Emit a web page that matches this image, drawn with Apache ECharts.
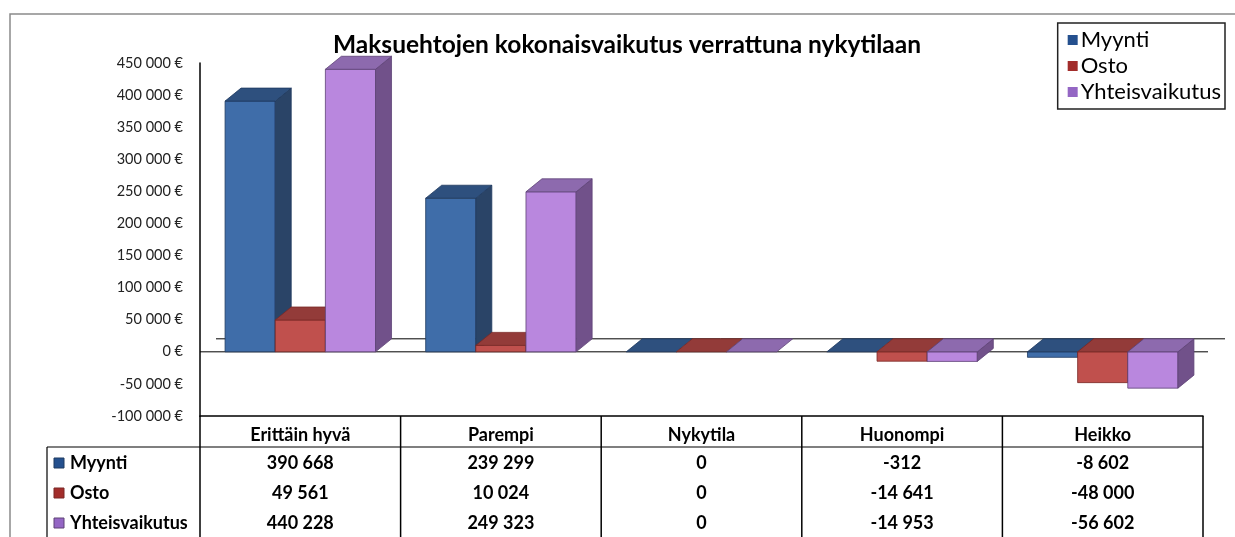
<!DOCTYPE html>
<html lang="fi">
<head>
<meta charset="UTF-8">
<title>Maksuehtojen kokonaisvaikutus</title>
<script src="https://cdn.jsdelivr.net/npm/echarts@6/dist/echarts.min.js"></script>
<style>
  html, body { margin: 0; padding: 0; background: #fff; }
  #main { width: 1235px; height: 537px; }
</style>
</head>
<body>
<div id="main"></div>
<script>
// data
var categories = ['Erittäin hyvä', 'Parempi', 'Nykytila', 'Huonompi', 'Heikko'];
var seriesNames = ['Myynti', 'Osto', 'Yhteisvaikutus'];
var myynti = [390668, 239299, 0, -312, -8602];
var osto = [49561, 10024, 0, -14641, -48000];
var yhteis = [440228, 249323, 0, -14953, -56602];
var yMin = -100000, yMax = 450000, yStep = 50000;

var allValues = [myynti, osto, yhteis];
// front / side / top face colours, legend colour
var faces = [
  { front: '#3F6DA9', side: '#2A4467', top: '#2E507E', edge: '#1F3A60', icon: '#24508E' },
  { front: '#C0504D', side: '#8A3331', top: '#933B39', edge: '#7A2826', icon: '#A22D2B' },
  { front: '#B987DE', side: '#71518A', top: '#8D6AAE', edge: '#5E4276', icon: '#9466C4' }
];
var DX = 16, DY = 13; // 3d depth

function fmt(v) {
  return String(v).replace(/\B(?=(\d{3})+(?!\d))/g, ' ');
}

function bar3d(k) {
  var c = faces[k];
  return {
    type: 'custom',
    name: seriesNames[k],
    itemStyle: { color: c.icon },
    data: allValues[k].map(function (v, i) { return [i, v]; }),
    renderItem: function (params, api) {
      var i = api.value(0), v = api.value(1);
      var base = api.coord([i, 0]);
      var band = api.size([1, 0])[0];
      var w = band * 0.25;
      var x0 = base[0] - 1.5 * w + k * w, x1 = x0 + w;
      var yv = api.coord([i, v])[1];
      var yTop = Math.min(base[1], yv), yBot = Math.max(base[1], yv);
      var kids = [];
      if (yBot - yTop > 0.5) {
        kids.push({ type: 'rect', shape: { x: x0, y: yTop, width: w, height: yBot - yTop },
          style: { fill: c.front, stroke: c.edge, lineWidth: 0.8 } });
        kids.push({ type: 'polygon', shape: { points: [[x1, yTop], [x1 + DX, yTop - DY], [x1 + DX, yBot - DY], [x1, yBot]] },
          style: { fill: c.side, stroke: c.edge, lineWidth: 0.8 } });
      }
      kids.push({ type: 'polygon', shape: { points: [[x0, yTop], [x0 + DX, yTop - DY], [x1 + DX, yTop - DY], [x1, yTop]] },
        style: { fill: c.top, stroke: c.edge, lineWidth: 0.8 } });
      return { type: 'group', children: kids };
    }
  };
}

var floorSeries = {
  type: 'custom',
  name: 'floor',
  silent: true,
  data: [[0, 0]],
  renderItem: function (params, api) {
    var band = api.size([1, 0])[0];
    var a = api.coord([0, 0]), b = api.coord([categories.length - 1, 0]);
    var l = a[0] - band / 2, r = b[0] + band / 2, y = a[1];
    return { type: 'group', children: [
      { type: 'line', shape: { x1: l + DX, y1: y - DY, x2: r + DX + 6, y2: y - DY }, style: { stroke: '#000', lineWidth: 1 } },
      { type: 'line', shape: { x1: l, y1: y, x2: r + 5, y2: y }, style: { stroke: '#000', lineWidth: 1 } }
    ] };
  }
};

var tableSeries = {
  type: 'custom',
  name: 'table',
  silent: true,
  data: categories.map(function (c, i) { return [i, yMin]; }),
  renderItem: function (params, api) {
    var i = api.value(0);
    var p = api.coord([i, yMin]);
    var band = api.size([1, 0])[0];
    var cx = p[0], yb = p[1];
    var l = cx - band / 2, r = cx + band / 2;
    var txt = { fill: '#000', font: 'bold 18px Lato', align: 'center', verticalAlign: 'middle' };
    var kids = [
      { type: 'line', shape: { x1: r, y1: yb, x2: r, y2: yb + 140 }, style: { stroke: '#000', lineWidth: 1.5 } },
      { type: 'line', shape: { x1: l, y1: yb + 31, x2: r, y2: yb + 31 }, style: { stroke: '#000', lineWidth: 1.2 } },
      { type: 'text', style: Object.assign({ text: categories[i], x: cx, y: yb + 19 }, txt) }
    ];
    for (var k = 0; k < 3; k++) {
      kids.push({ type: 'text', style: Object.assign({ text: fmt(allValues[k][i]), x: cx, y: yb + 47 + k * 30 }, txt) });
    }
    if (i === 0) {
      var bx = l - 153;
      kids.push({ type: 'line', shape: { x1: l, y1: yb, x2: l, y2: yb + 140 }, style: { stroke: '#000', lineWidth: 1.5 } });
      kids.push({ type: 'line', shape: { x1: bx, y1: yb + 31, x2: l, y2: yb + 31 }, style: { stroke: '#000', lineWidth: 1.2 } });
      kids.push({ type: 'line', shape: { x1: bx, y1: yb + 31, x2: bx, y2: yb + 140 }, style: { stroke: '#000', lineWidth: 1.2 } });
      for (var k2 = 0; k2 < 3; k2++) {
        var ry = yb + 47 + k2 * 30;
        kids.push({ type: 'rect', shape: { x: bx + 7, y: ry - 5, width: 10, height: 10 },
          style: { fill: faces[k2].icon, stroke: faces[k2].edge, lineWidth: 1 } });
        kids.push({ type: 'text', style: { text: seriesNames[k2], x: bx + 23, y: ry, fill: '#000',
          font: 'bold 18px Lato', align: 'left', verticalAlign: 'middle' } });
      }
    }
    return { type: 'group', children: kids };
  }
};

var chart = echarts.init(document.getElementById('main'));
chart.setOption({
  animation: false,
  backgroundColor: '#fff',
  title: {
    text: 'Maksuehtojen kokonaisvaikutus verrattuna nykytilaan',
    left: 328,
    top: 28,
    textStyle: { fontFamily: 'Lato', fontWeight: 'bold', fontSize: 24.5, color: '#000' }
  },
  legend: {
    data: seriesNames,
    orient: 'vertical',
    right: 10,
    top: 23,
    icon: 'rect',
    itemWidth: 10,
    itemHeight: 10,
    itemGap: 4,
    padding: [6, 4, 6, 10],
    borderColor: '#222',
    borderWidth: 1.5,
    selectedMode: false,
    textStyle: { fontFamily: 'Lato', fontSize: 22, color: '#000', padding: [0, 0, 0, -2] }
  },
  graphic: [
    { type: 'rect', shape: { x: 10, y: 14, width: 1300, height: 600 }, style: { fill: 'none', stroke: '#8a8a8a', lineWidth: 1.5 }, z: -1 }
  ],
  grid: { left: 200, right: 32, top: 63, bottom: 121 },
  xAxis: {
    type: 'category',
    data: categories,
    axisLine: { onZero: false, lineStyle: { color: '#000', width: 1.5 } },
    axisTick: { show: false },
    axisLabel: { show: false },
    splitLine: { show: false }
  },
  yAxis: {
    type: 'value',
    min: yMin,
    max: yMax,
    interval: yStep,
    axisLine: { show: true, lineStyle: { color: '#000', width: 1.5 } },
    axisTick: { show: false },
    splitLine: { show: false },
    axisLabel: {
      margin: 17,
      color: '#222',
      fontFamily: 'Lato',
      fontSize: 14.5,
      formatter: function (v) { return fmt(v) + ' €'; }
    }
  },
  series: [floorSeries, bar3d(0), bar3d(1), bar3d(2), tableSeries]
});
</script>
</body>
</html>
